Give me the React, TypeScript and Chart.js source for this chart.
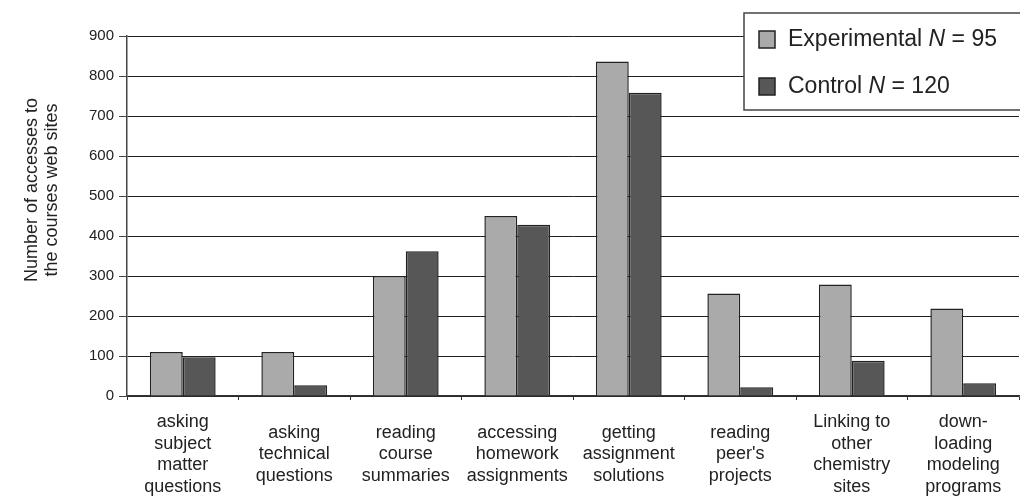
import React, { useEffect, useRef } from "react";
import { Chart, registerables } from "chart.js";

Chart.register(...registerables);

const categories: string[][] = [
  ["asking", "subject", "matter", "questions"],
  ["asking", "technical", "questions"],
  ["reading", "course", "summaries"],
  ["accessing", "homework", "assignments"],
  ["getting", "assignment", "solutions"],
  ["reading", "peer's", "projects"],
  ["Linking to", "other", "chemistry", "sites"],
  ["down-", "loading", "modeling", "programs"],
];

const experimental: number[] = [110, 110, 300, 450, 836, 256, 279, 219];
const control: number[] = [97, 27, 362, 428, 758, 22, 88, 32];

const seriesNames = ["Experimental", "Control"];
const seriesN = ["95", "120"];
const yTitle = ["Number of accesses to", "the courses web sites"];
const yTicks = { min: 0, max: 900, step: 100 };

const FONT = "'Liberation Sans', Arial, sans-serif";
const EXP_COLOR = "#aaaaaa";
const CTRL_COLOR = "#575757";

const yTitlePlugin = {
  id: "yTitle",
  afterDraw(chart: any) {
    const ctx = chart.ctx;
    ctx.save();
    ctx.fillStyle = "#222";
    ctx.font = `18px ${FONT}`;
    ctx.textAlign = "center";
    ctx.textBaseline = "middle";
    const cx = [32, 52];
    yTitle.forEach((line, i) => {
      ctx.save();
      ctx.translate(cx[i], 190);
      ctx.rotate(-Math.PI / 2);
      ctx.fillText(line, 0, 0);
      ctx.restore();
    });
    ctx.restore();
  },
};

const legendPlugin = {
  id: "customLegend",
  afterDraw(chart: any) {
    const ctx = chart.ctx;
    ctx.save();
    const x = 744, y = 13, w = 300, h = 97;
    ctx.fillStyle = "#ffffff";
    ctx.fillRect(x, y, w, h);
    ctx.strokeStyle = "#444";
    ctx.lineWidth = 1.5;
    ctx.strokeRect(x, y, w, h);
    const colors = [EXP_COLOR, CTRL_COLOR];
    const rows = [39, 86];
    rows.forEach((cy, i) => {
      ctx.fillStyle = colors[i];
      ctx.fillRect(759, cy - 8, 16, 17);
      ctx.strokeStyle = "#222";
      ctx.lineWidth = 1.5;
      ctx.strokeRect(759, cy - 8, 16, 17);
      ctx.fillStyle = "#222";
      ctx.textBaseline = "middle";
      ctx.textAlign = "left";
      let tx = 788;
      ctx.font = `23px ${FONT}`;
      const a = seriesNames[i] + " ";
      ctx.fillText(a, tx, cy + 1);
      tx += ctx.measureText(a).width;
      ctx.font = `italic 23px ${FONT}`;
      ctx.fillText("N", tx, cy + 1);
      tx += ctx.measureText("N").width;
      ctx.font = `23px ${FONT}`;
      ctx.fillText(" = " + seriesN[i], tx, cy + 1);
    });
    ctx.restore();
  },
};

export default function App() {
  const ref = useRef<HTMLCanvasElement | null>(null);
  useEffect(() => {
    if (!ref.current) return;
    const chart = new Chart(ref.current, {
      type: "bar",
      data: {
        labels: categories,
        datasets: [
          {
            label: "Experimental N = 95",
            data: experimental,
            backgroundColor: EXP_COLOR,
            borderColor: "#222",
            borderWidth: 1.5,
          },
          {
            label: "Control N = 120",
            data: control,
            backgroundColor: CTRL_COLOR,
            borderColor: "#222",
            borderWidth: 1.5,
          },
        ],
      },
      options: {
        animation: false,
        responsive: false,
        devicePixelRatio: 1,
        datasets: { bar: { categoryPercentage: 0.59, barPercentage: 1.0 } },
        layout: { padding: { top: 36, right: 1, left: 0, bottom: 0 } },
        plugins: {
          legend: { display: false },
          tooltip: { enabled: false },
          title: { display: false },
        },
        scales: {
          x: {
            grid: {
              display: true,
              drawOnChartArea: false,
              drawTicks: true,
              tickLength: 4,
              color: "#333",
              offset: true,
            },
            border: { color: "#333", width: 1.5 },
            ticks: {
              color: "#222",
              font: { family: FONT, size: 18, lineHeight: 1.2 },
              padding: 22,
              maxRotation: 0,
              autoSkip: false,
              crossAlign: "center",
            },
            afterFit(scale: any) {
              scale.height = 102;
              scale.paddingLeft = 0;
              scale.paddingRight = 0;
            },
          },
          y: {
            min: yTicks.min,
            max: yTicks.max,
            ticks: {
              stepSize: yTicks.step,
              color: "#222",
              font: { family: FONT, size: 15 },
              padding: 5,
            },
            grid: {
              color: "#222",
              lineWidth: 1,
              drawTicks: true,
              tickLength: 8,
              tickColor: "#444",
            },
            border: { color: "#444", width: 1.5 },
            title: { display: false },
            afterFit(scale: any) {
              scale.width = 127;
            },
          },
        },
      },
      plugins: [yTitlePlugin, legendPlugin],
    });
    return () => chart.destroy();
  }, []);
  return (
    <div style={{ position: "absolute", left: 0, top: 0, width: 1020, height: 498, background: "#fff" }}>
      <canvas ref={ref} width={1020} height={498} style={{ display: "block" }} />
    </div>
  );
}
